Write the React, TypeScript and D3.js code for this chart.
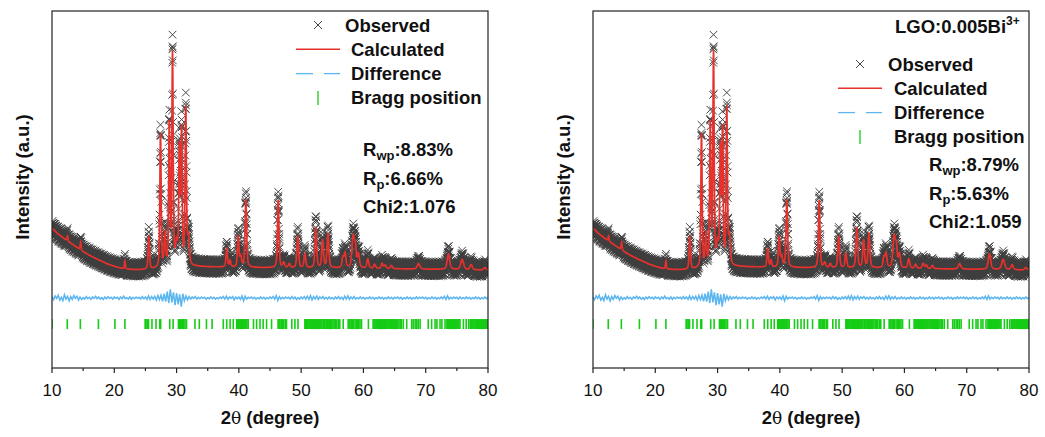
import React from 'react';
import * as d3 from 'd3';

// ---------- data ----------
const xTicks = [10, 20, 30, 40, 50, 60, 70, 80];
const xMinorTicks = [15, 25, 35, 45, 55, 65, 75];

// background (intensity, a.u.)
const bgTheta = [10, 11, 12, 13, 14, 15, 16, 17, 18, 19, 20, 21, 22, 24, 26, 28, 30, 33, 36, 40, 45, 50, 55, 60, 65, 70, 75, 80];
const bgLevel = [392, 375, 362, 350, 338, 326, 316, 307, 299, 291, 285, 280, 277, 275, 276, 280, 284, 284, 283, 282, 281, 280, 280, 279, 278, 277, 276, 274];

// reflections: position, calculated height, observed height, FWHM
const peakTheta = [12.5, 14.6, 21.7, 25.55, 27.42, 28.12, 28.83, 29.35, 30.0, 30.45, 30.8, 31.48, 31.9, 38.05, 38.6, 39.9, 40.3, 41.12, 46.32, 47.2, 48.1, 49.45, 50.6, 52.35, 53.45, 54.3, 56.7, 57.05, 58.35, 58.7, 59.2, 60.7, 61.8, 63.0, 63.5, 64.5, 68.85, 73.65, 75.85, 77.3, 79.5];
const peakCalc = [14, 22, 22, 92, 375, 90, 395, 590, 55, 320, 370, 435, 75, 52, 18, 86, 28, 190, 190, 14, 11, 88, 40, 112, 76, 94, 28, 40, 86, 52, 38, 26, 11, 14, 9, 9, 15, 43, 28, 14, 7];
const peakObs = [18, 24, 24, 100, 390, 100, 410, 622, 65, 335, 390, 455, 80, 58, 22, 94, 32, 200, 200, 17, 13, 96, 44, 130, 84, 102, 32, 44, 94, 58, 42, 30, 13, 17, 11, 11, 19, 48, 32, 17, 9];
const peakFwhm = [0.15, 0.17, 0.17, 0.26, 0.24, 0.26, 0.24, 0.24, 0.36, 0.24, 0.24, 0.24, 0.36, 0.28, 0.26, 0.28, 0.3, 0.3, 0.28, 0.36, 0.36, 0.32, 0.32, 0.32, 0.32, 0.34, 0.34, 0.34, 0.45, 0.36, 0.36, 0.36, 0.36, 0.36, 0.36, 0.36, 0.48, 0.46, 0.55, 0.42, 0.45];

// difference curve (obs - calc), every 0.25 deg from 10 deg
const diffStart = 10;
const diffStep = 0.25;
const diffValues = [
  3, -5, 6, -1, 8, -6, 2, -7, 9, -3, 5, -8, 4, -4, 7, -1, 5, -6, 3, -4,
  1, -3, 4, -2, 2, -4, 3, -1, 5, -2, 3, -3, 1, -4, 3, -2, 4, -1, 2, -3,
  3, -1, 2, -4, 3, -2, 5, -2, 1, -3, 3, -4, 2, -2, 3, -1, 2, -3, 4, -2,
  3, -4, 6, -4, 4, -3, 5, -6, 7, -5, 8, -9, 12, -10, 18, -14, 24, -12, 16, -20,
  14, -18, 10, -24, 12, -8, 6, -5, 4, -3, 3, -1, 4, -3, 2, -2, 3, -1, 2, -3,
  1, -2, 3, -2, 2, -3, 1, -2, 3, -1, 4, -3, 5, -4, 3, -1, 4, -5, 3, -2,
  3, -4, 6, -8, 5, -3, 2, -1, 3, -2, 2, -3, 1, -2, 3, -2, 2, -3, 1, -2,
  3, -1, 4, -3, 7, -7, 4, -3, 2, -2, 3, -1, 2, -3, 4, -2, 3, -4, 1, -3,
  3, -2, 4, -3, 5, -4, 7, -5, 4, -3, 5, -4, 3, -1, 4, -3, 2, -3, 3, -2,
  1, -3, 3, -2, 4, -3, 2, -4, 5, -3, 6, -4, 3, -2, 4, -3, 1, -2, 3, -2,
  2, -3, 1, -2, 3, -2, 2, -3, 1, -2, 3, -2, 2, -3, 1, -2, 3, -2, 2, -3,
  2, -1, 3, -2, 2, -3, 1, -2, 3, -2, 2, -3, 1, -2, 3, -2, 2, -1, 3, -2,
  2, -3, 1, -2, 3, -2, 2, -3, 1, -2, 3, -2, 5, -4, 6, -3, 2, -2, 3, -1,
  2, -3, 3, -2, 1, -2, 3, -2, 2, -3, 1, -2, 3, -2, 2, -3, 1, -2, 3, -2,
  2,
];
const diffZero = 196;

// counting scatter of the observed points (a.u.), cycled along the scan
const obsScatter = [0, 14, -18, 6, 21, -9, -20, 10, 16, -4, -15, 19, 3, -12, 9, -19, 15, -3, 18, -13, 7, -16, 12];

// Bragg reflection positions
const braggTheta = [
  10.0, 12.45, 14.55, 17.45, 20.1, 21.7,
  24.95, 25.1, 25.3, 25.5, 26.05, 26.7, 27.3, 27.45, 28.9, 29.45, 30.3, 30.45, 30.6, 30.8, 31.0, 31.15, 31.35, 31.6, 32.95, 33.65, 34.8, 35.7,
  37.5, 38.05, 38.6, 39.1, 39.65, 39.8, 39.95, 40.1, 40.25, 40.4, 40.55, 40.7, 40.85, 41.0, 41.15, 41.3, 41.5,
  42.35, 42.85, 43.4, 43.9, 44.45, 45.25, 46.3, 46.45, 46.6, 46.8, 47.0, 47.2, 47.45, 47.65, 48.5, 49.0, 49.5,
  50.6, 50.7, 50.85, 51.0, 51.1, 51.25, 51.4, 51.55, 51.7, 51.85, 52.0, 52.15, 52.3, 52.45, 52.6, 52.75, 52.9, 53.05, 53.2, 53.35, 53.55, 53.7, 53.85,
  54.1, 54.25, 54.4, 54.6, 54.75, 54.9, 55.1, 55.3, 55.5, 55.7, 55.95, 56.2, 56.75, 57.55, 57.7, 57.85, 58.05, 58.2, 58.4, 58.65, 58.85, 59.05, 59.25, 59.45, 59.7,
  60.8, 61.55, 61.7, 61.85, 62.0, 62.15, 62.3, 62.45, 62.6, 62.75, 62.9, 63.05, 63.2, 63.35, 63.5, 63.65, 63.8, 63.95, 64.1, 64.25, 64.4, 64.55, 64.7, 64.85, 65.0, 65.15, 65.3, 65.5, 65.7, 65.9, 66.1, 66.4,
  66.95, 67.75, 68.0, 68.3, 68.55, 68.8, 69.1, 70.4, 70.95, 71.5, 71.8, 72.3, 72.6, 73.1,
  73.4, 73.55, 73.7, 73.85, 74.0, 74.15, 74.3, 74.45, 74.6, 74.75, 74.9, 75.05, 75.2, 75.35, 75.5, 76.05, 76.5, 76.9,
  77.15, 77.3, 77.45, 77.6, 77.75, 77.9, 78.05, 78.2, 78.35, 78.5, 78.65, 78.8, 78.95, 79.1, 79.25, 79.4, 79.55, 79.7, 79.85, 80.0,
];

const sampleLabels = ['', 'LGO:0.005Bi'];
const rwpValues = ['8.83%', '8.79%'];
const rpValues = ['6.66%', '5.63%'];
const chi2Values = ['1.076', '1.059'];

// ---------- model ----------
const bgScale = d3.scaleLinear().domain(bgTheta).range(bgLevel).clamp(true);

function pv(x: number, x0: number, w: number) {
  const t = (x - x0) / w;
  const L = 1 / (1 + 4 * t * t);
  const G = Math.exp(-4 * Math.LN2 * t * t);
  return 0.5 * L + 0.5 * G;
}
function profile(x: number, heights: number[]) {
  let y = bgScale(x);
  for (let i = 0; i < peakTheta.length; i++) {
    if (Math.abs(x - peakTheta[i]) < 6) y += heights[i] * pv(x, peakTheta[i], peakFwhm[i]);
  }
  return y;
}

const grid = d3.range(10, 80.0001, 0.02);
const calcData = grid.map((x) => [x, profile(x, peakCalc)] as [number, number]);
const obsData = grid.map((x, i) => [x, profile(x, peakObs) + obsScatter[i % obsScatter.length]] as [number, number]);
const diffData = diffValues.map((v, i) => [diffStart + i * diffStep, diffZero + v] as [number, number]);

const FONT = '"Liberation Sans", Arial, Helvetica, sans-serif';

function Panel({ idx, x0 }: { idx: number; x0: number }) {
  const left = x0;
  const right = x0 + 436;
  const top = 11;
  const bottom = 368;
  const x = d3.scaleLinear().domain([10, 80]).range([left, right]);
  const y = d3.scaleLinear().domain([0, 1000]).range([bottom, top]);
  const line = d3.line<[number, number]>().x((d) => x(d[0])).y((d) => y(d[1]));
  const s = 3.8;
  let obsPath = '';
  for (const d of obsData) {
    const px = x(d[0]);
    const py = y(d[1]);
    obsPath += `M${(px - s).toFixed(1)},${(py - s).toFixed(1)}L${(px + s).toFixed(1)},${(py + s).toFixed(1)}M${(px - s).toFixed(1)},${(py + s).toFixed(1)}L${(px + s).toFixed(1)},${(py - s).toFixed(1)}`;
  }
  const clipId = `clip${idx}`;
  const isRight = idx === 1;
  const lg = isRight ? { mx: x0 + 267, tx: x0 + 295, y0: 64 } : { mx: x0 + 266, tx: x0 + 293, y0: 25 };
  const stat = isRight ? { x: x0 + 336, y0: 171 } : { x: x0 + 311, y0: 156 };
  const gap = 24.3;
  const fs = 18.5;
  return (
    <g fontFamily={FONT}>
      <defs>
        <clipPath id={clipId}>
          <rect x={left} y={top} width={right - left} height={bottom - top} />
        </clipPath>
      </defs>
      <g clipPath={`url(#${clipId})`}>
        <path d={obsPath} stroke="#3e3e3e" strokeWidth={0.95} fill="none" />
        <path d={line(calcData) || ''} stroke="#e8312c" strokeWidth={1.7} fill="none" />
        <path d={line(diffData) || ''} stroke="#5bb5ef" strokeWidth={1.5} fill="none" />
        {braggTheta.map((b, i) => (
          <line key={i} x1={x(b)} x2={x(b)} y1={y(137)} y2={y(109)} stroke="#16cc16" strokeWidth={1.6} />
        ))}
      </g>
      <rect x={left} y={top} width={right - left} height={bottom - top} fill="none" stroke="#222" strokeWidth={1.2} />
      {xTicks.map((t) => (
        <g key={t}>
          <line x1={x(t)} x2={x(t)} y1={bottom} y2={bottom + 5} stroke="#222" strokeWidth={1.2} />
          <text x={x(t)} y={bottom + 28} fontSize={17} textAnchor="middle" fill="#111">{t}</text>
        </g>
      ))}
      {xMinorTicks.map((t) => (
        <line key={t} x1={x(t)} x2={x(t)} y1={bottom} y2={bottom + 3} stroke="#222" strokeWidth={1.2} />
      ))}
      <text x={(left + right) / 2} y={424} fontSize={18.5} fontWeight="bold" textAnchor="middle" fill="#111">
        2<tspan fontWeight="normal" fontFamily='"DejaVu Serif", serif' fontSize={17}>θ</tspan> (degree)
      </text>
      <text transform={`translate(${x0 - 30},177) rotate(-90)`} fontSize={18.5} fontWeight="bold" textAnchor="middle" dominantBaseline="central" fill="#111">
        Intensity (a.u.)
      </text>
      {isRight && (
        <text x={x0 + 302} y={33} fontSize={fs} fontWeight="bold" fill="#111">
          {sampleLabels[idx]}<tspan fontSize={12} dy={-8}>3+</tspan>
        </text>
      )}
      <path d={`M${lg.mx - 4},${lg.y0 - 4}L${lg.mx + 4},${lg.y0 + 4}M${lg.mx - 4},${lg.y0 + 4}L${lg.mx + 4},${lg.y0 - 4}`} stroke="#444" strokeWidth={1} />
      <text x={lg.tx} y={lg.y0 + 6.5} fontSize={fs} fontWeight="bold" fill="#111">Observed</text>
      <line x1={lg.mx - 22} x2={lg.mx + 22} y1={lg.y0 + gap} y2={lg.y0 + gap} stroke="#e8312c" strokeWidth={1.6} />
      <text x={lg.tx + 6} y={lg.y0 + gap + 6.5} fontSize={fs} fontWeight="bold" fill="#111">Calculated</text>
      <line x1={lg.mx - 22} x2={lg.mx - 5} y1={lg.y0 + 2 * gap} y2={lg.y0 + 2 * gap} stroke="#5bb5ef" strokeWidth={1.3} />
      <line x1={lg.mx + 6} x2={lg.mx + 22} y1={lg.y0 + 2 * gap} y2={lg.y0 + 2 * gap} stroke="#5bb5ef" strokeWidth={1.3} />
      <text x={lg.tx + 6} y={lg.y0 + 2 * gap + 6.5} fontSize={fs} fontWeight="bold" fill="#111">Difference</text>
      <line x1={lg.mx} x2={lg.mx} y1={lg.y0 + 3 * gap - 7} y2={lg.y0 + 3 * gap + 7} stroke="#16cc16" strokeWidth={1.3} />
      <text x={lg.tx + 6} y={lg.y0 + 3 * gap + 6.5} fontSize={fs} fontWeight="bold" fill="#111">Bragg position</text>
      <text x={stat.x} y={stat.y0} fontSize={fs} fontWeight="bold" fill="#111">
        R<tspan fontSize={13} dy={4}>wp</tspan><tspan dy={-4}>:{rwpValues[idx]}</tspan>
      </text>
      <text x={stat.x} y={stat.y0 + 28.5} fontSize={fs} fontWeight="bold" fill="#111">
        R<tspan fontSize={13} dy={4}>p</tspan><tspan dy={-4}>:{rpValues[idx]}</tspan>
      </text>
      <text x={stat.x} y={stat.y0 + 57} fontSize={fs} fontWeight="bold" fill="#111">
        Chi2:{chi2Values[idx]}
      </text>
    </g>
  );
}

export default function App() {
  return (
    <svg width={1045} height={437} style={{ position: 'absolute', left: 0, top: 0, background: '#fff' }}>
      <rect width={1045} height={437} fill="#fff" />
      <Panel idx={0} x0={52} />
      <Panel idx={1} x0={593} />
    </svg>
  );
}
